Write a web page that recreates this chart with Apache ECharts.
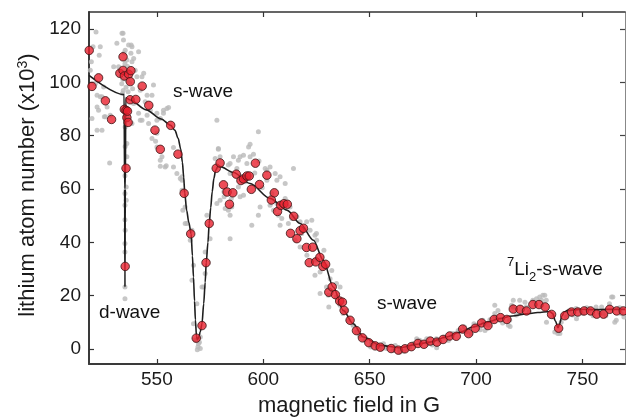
<!DOCTYPE html>
<html><head><meta charset="utf-8">
<script src="https://cdn.jsdelivr.net/npm/echarts@6/dist/echarts.min.js"></script>
<style>html,body{margin:0;padding:0;background:#fff}#c{width:626px;height:420px}</style>
</head><body><div id="c"></div>
<script>
const fieldTicks = [550, 600, 650, 700, 750];
const atomTicks = [0, 20, 40, 60, 80, 100, 120];

const redField = [518.2,519.5,522.6,525.8,528.7,532.6,534.1,534.1,534.7,534.7,535.1,535.5,535.5,535.9,536.2,536.5,536.7,537.4,537.5,537.8,540.1,543.1,546.2,549.1,551.6,556.5,559.9,562.8,565.9,568.5,571.2,573.1,574.6,577.9,579.7,581.3,583.0,584.1,585.7,587.3,589.5,590.7,592.3,593.4,594.4,596.3,598.2,601.7,603.8,605.2,606.7,608.2,609.7,611.3,612.8,614.3,615.8,617.3,618.9,620.3,621.6,623.2,624.7,626.6,628.0,629.3,630.8,632.4,633.9,635.9,637.2,638.0,640.8,643.8,646.6,649.6,652.6,655.0,660.1,663.5,666.6,669.6,672.7,675.5,678.5,681.6,684.5,687.6,690.7,693.7,696.5,699.6,702.6,705.6,708.5,711.5,714.5,717.5,720.7,723.7,726.7,729.6,732.5,735.5,738.8,741.7,744.9,747.8,750.8,753.8,756.7,759.9,762.8,766.1,769.2];
const redAtoms = [112.0,98.5,101.7,93.1,86.1,103.4,109.6,104.5,102.4,89.9,31.0,67.8,89.5,86.8,89.2,85.0,103.1,93.5,100.3,104.4,93.6,98.6,91.4,82.1,74.9,83.9,73.1,58.4,43.2,4.1,8.8,32.4,47.1,67.8,69.8,61.6,58.9,54.3,58.6,65.6,63.2,63.8,64.9,64.9,59.9,69.7,61.7,65.2,55.9,58.6,51.6,53.9,54.5,54.3,43.4,49.8,41.4,44.4,45.3,38.1,32.4,38.2,32.7,34.4,31.0,31.8,21.3,23.3,20.4,18.0,17.6,14.5,10.8,6.9,4.2,2.4,1.2,0.7,0.2,-0.4,0.1,0.9,2.1,1.8,3.0,2.6,3.6,4.9,4.8,7.5,5.8,7.8,9.8,8.8,11.1,11.8,11.1,15.0,14.9,14.3,16.7,16.7,15.8,13.0,7.8,12.5,13.9,13.9,14.3,14.3,13.1,13.1,14.9,14.3,14.3];

const fitField = [518.1,534.6,534.85,535.0,535.15,535.4,537.5,545,552,556.5,558.5,560.0,561.2,562.0,562.6,563.1,564.0,565.0,566.1,566.7,567.2,567.7,568.1,568.6,569.0,569.6,570.4,571.2,572.0,572.7,573.2,574.0,574.6,575.3,576.0,576.8,577.6,578.7,579.8,586.0,593.8,603.2,611.1,617.3,623.6,628.2,632.9,637.6,642.3,647.0,654.9,664.3,672.1,678.3,686.0,692.0,698.5,705.0,711.0,717.0,723.5,729.0,734.6,736.0,737.3,738.5,739.3,740.3,741.5,743.0,748.6,755.0,762.0,770.0];
const fitAtoms = [102.6,95.4,60,23.3,60,94.2,93.4,89.7,86.3,83.9,82.0,79.0,75.0,70.0,64.5,58.6,52.0,47.5,43.2,35.0,27.0,18.0,11.0,5.0,3.6,4.2,6.5,9.5,17.0,25.0,32.4,40.0,47.1,53.0,59.0,64.0,67.0,68.5,68.4,66.2,62.1,56.5,52.1,47.1,40.8,33.3,23.3,14.5,9.5,4.5,1.4,0.5,1.8,2.6,4.5,6.2,8.3,10.0,11.4,12.4,13.2,13.7,14.1,13.3,10.5,8.0,9.5,12.3,14.0,14.5,14.9,14.8,14.9,14.9];

const grayPoints = [
[521.4,118.9],[520.0,113.4],[523.4,113.4],[522.9,110.2],[518.7,104.6],[521.1,99.6],[525.0,98.3],[519.5,86.5],[521.9,90.8],[523.4,94.6],[526.6,90.8],[525.3,87.1],[528.1,87.7],[524.2,82.1],[527.8,69.8],[531.2,114.7],[534.1,118.4],[534.3,115.9],[535.1,112.1],[537.9,114.0],[537.8,110.9],[541.4,111.5],[539.1,109.0],[529.7,105.9],[540.6,102.1],[542.2,97.1],[543.8,103.4],[545.4,95.2],[550.0,88.4],[553.1,89.6],[554.7,90.2],[551.6,86.5],[545.4,87.7],[542.2,85.8],[539.1,92.1],[546.1,84.6],[550.0,80.9],[549.4,77.9],[552.4,72.1],[553.9,68.3],[551.6,68.6],[557.8,68.3],[559.4,65.8],[561.0,64.0],[561.8,59.6],[563.3,53.3],[535.9,77.1],[535.1,83.3],[535.9,72.1],[535.6,60.8],[535.6,55.8],
[519.2,107.7],[521.9,95.2],[524.2,94.6],[522.6,89.6],[521.9,82.1],[525.8,87.1],[533.6,118.4],[536.7,114.0],[538.3,113.4],[535.9,108.4],[538.3,107.7],[539.8,104.6],[532.0,105.9],[543.0,102.1],[548.4,99.0],[547.7,95.2],[544.5,92.7],[546.9,89.6],[550.0,85.8],[553.1,88.4],[555.5,90.6],[541.4,88.4],[538.3,84.6],[543.0,85.8],[547.7,79.0],[550.0,75.8],[551.6,70.8],[554.4,68.7],[557.8,75.6],[561.8,64.6],
[533.5,99.5],[534.2,97.0],[535.5,98.2],[536.5,96.5],[537.2,99.8],[538.6,97.6],[534.0,101.2],[536.0,100.8],[533.8,95.8],[535.0,107.0],[536.2,106.0],[534.6,111.0],
[535.0,58.3],[535.0,53.9],[535.0,39.6],[535.0,36.4],[535.0,23.3],[535.0,18.9],[535.1,44.6],[535.0,48.5],[535.1,76.0],[535.0,65.0],
[563.3,47.1],[565.7,40.8],[567.2,31.4],[566.5,25.8],[568.8,17.0],[568.0,3.3],[569.3,0.8],[570.0,2.6],[571.2,23.3],[572.7,28.3],[572.7,36.4],[584.4,41.4],[562.2,52.1],[573.5,50.2],[561.8,63.3],[564.1,47.1],[566.5,44.6],[569.5,2.0],[570.4,0.2],[568.8,3.3],[567.2,9.5],[575.0,41.4],[571.9,23.3],[570.4,4.5],[569.0,-0.3],
[578.9,74.9],[577.4,71.5],[579.7,72.1],[593.8,76.8],[590.7,72.7],[588.3,70.8],[592.3,69.6],[595.4,73.1],[586.0,72.1],[583.6,69.0],[584.4,65.8],[587.6,67.7],[589.9,64.6],[591.5,62.7],[588.3,60.8],[590.7,57.7],[589.1,57.1],[582.1,52.7],[583.6,52.1],[584.4,50.2],[585.2,53.3],[578.2,54.6],[581.6,57.1],[594.6,46.4],[597.7,50.2],[598.5,53.3],[600.9,67.7],[603.2,68.3],[605.6,65.8],[601.7,63.3],[610.3,62.1],[614.2,67.7],[607.9,64.6],[604.0,58.3],[603.2,53.9],[604.8,52.1],[607.1,50.2],[608.7,49.0],[607.9,46.4],[611.8,47.1],[613.4,49.0],[606.4,54.6],[610.3,56.5],[612.6,53.3],[615.8,49.6],[617.3,47.7],[618.1,43.3],[620.4,47.7],[622.8,48.3],[622.0,44.6],[625.1,40.8],[624.3,42.7],[628.5,37.1],[615.0,40.8],[617.3,38.3],[620.5,35.2],[624.3,33.3],[626.7,28.9],[624.3,27.7],[629.8,30.8],[632.2,29.5],[631.4,26.4],[626.7,20.8],[630.6,20.2],[636.1,23.3],[634.5,19.5],[636.1,16.4],[639.2,14.5],[640.0,10.8],[642.3,8.9],[643.9,6.4],[645.5,5.1],[647.8,3.3],[651.7,2.0],[655.7,0.2],[658.0,0.8],[664.3,-1.1],[667.4,0.2],[670.5,2.0],[674.4,2.6],[676.8,3.9],
[578.2,85.8],[578.9,75.2],[584.4,69.6],[589.1,72.1],[593.1,75.8],[593.8,72.1],[597.7,81.5],[601.7,67.1],[606.4,63.3],[579.7,55.8],[581.5,59.0],[585.0,56.5],[596.0,66.0],[599.5,60.5],[598.0,70.5],
[625.0,43.3],[629.7,23.3],[630.8,15.8],[634.4,19.5],[637.5,13.3],[634.4,24.6],[642.2,8.9],
[645.3,5.1],[648.4,3.9],[650.8,2.6],[653.9,1.4],[657.8,0.2],[661.0,-0.5],[664.1,-0.5],[668.8,0.8],[670.4,2.0],[673.5,3.3],[677.4,2.0],[681.3,3.9],[685.2,4.5],[689.1,5.8],[692.3,7.0],[694.6,8.3],[697.7,5.8],[700.9,8.9],[703.2,10.8],[704.8,9.5],[708.7,12.0],[710.3,14.5],[711.1,10.8],[715.8,10.8],[717.3,15.8],[720.5,18.3],[723.6,15.8],[726.7,18.3],[729.9,19.5],[731.4,20.2],[733.0,18.3],[736.1,12.0],[738.4,5.8],[740.0,10.1],[743.9,14.5],[747.0,15.2],[750.2,13.3],[753.3,14.5],[756.4,15.8],[759.6,13.3],[762.7,17.0],[764.3,19.5],[765.9,10.8],[768.2,13.3],
[715.2,8.9],[716.7,16.4],[723.0,17.6],[728.4,18.9],[730.8,18.3],[732.3,20.2],[733.1,10.1],[737.0,6.4],[739.4,5.8],[747.2,11.4],[759.0,15.8],[763.7,19.5],[765.2,10.1],[672.1,3.9],[681.5,0.5],[691.6,7.0],[704.2,7.0],[705.7,8.9],[708.8,16.4],[716.0,8.5],[708.8,13.3],[717.5,18.3],
[650.5,0.8],[656.5,2.0],[662.0,1.3],[666.0,-0.8],[679.5,1.5],[683.0,2.8],[687.0,3.2],[695.5,6.5],[699.0,9.5],[702.0,7.2],[706.5,11.0],[712.5,9.8],[719.0,12.8],[725.0,14.0],[742.5,12.0],[745.5,12.8],[752.0,15.5],[755.0,12.5],[758.0,14.0],[761.0,12.5],[767.5,15.5],[769.5,12.0]
];

const FONT = '"Liberation Sans", Arial, Helvetica, sans-serif';
const chart = echarts.init(document.getElementById('c'), null, {renderer: 'canvas'});

const redData = redField.map((x, i) => [x, redAtoms[i]]);
const fitData = fitField.map((x, i) => [x, fitAtoms[i]]);

const xMin = 518.1, xMax = 770, yMin = -5.6, yMax = 126.4;

chart.setOption({
  animation: false,
  backgroundColor: '#fff',
  grid: {left: 89, right: 1, top: 12, bottom: 56, containLabel: false},
  xAxis: [{
    type: 'value', min: xMin, max: xMax, position: 'bottom',
    axisLine: {show: true, onZero: false, lineStyle: {color: '#3a3a3a', width: 2}},
    axisTick: {show: true, inside: true, length: 5, customValues: fieldTicks, lineStyle: {color: '#333', width: 1.2}},
    axisLabel: {show: true, customValues: fieldTicks, margin: 6, fontSize: 19, color: '#1a1a1a', fontFamily: FONT},
    splitLine: {show: false}
  }, {
    type: 'value', min: xMin, max: xMax, position: 'top',
    axisLine: {show: true, onZero: false, lineStyle: {color: '#333', width: 1.5}},
    axisTick: {show: true, inside: true, length: 5, customValues: fieldTicks, lineStyle: {color: '#333', width: 1.2}},
    axisLabel: {show: false},
    splitLine: {show: false}
  }],
  yAxis: [{
    type: 'value', min: yMin, max: yMax, position: 'left',
    axisLine: {show: true, onZero: false, lineStyle: {color: '#3a3a3a', width: 2}},
    axisTick: {show: true, inside: true, length: 5, customValues: atomTicks, lineStyle: {color: '#333', width: 1.2}},
    axisLabel: {show: true, customValues: atomTicks, margin: 8, fontSize: 19, color: '#1a1a1a', fontFamily: FONT},
    splitLine: {show: false}
  }, {
    type: 'value', min: yMin, max: yMax, position: 'right',
    axisLine: {show: true, onZero: false, lineStyle: {color: '#888', width: 1}},
    axisTick: {show: true, inside: true, length: 5, customValues: atomTicks, lineStyle: {color: '#444', width: 1.2}},
    axisLabel: {show: false},
    splitLine: {show: false}
  }],
  series: [{
    type: 'scatter', name: 'shots', data: grayPoints, symbol: 'circle', symbolSize: 5,
    itemStyle: {color: '#b9b9b9'}, clip: false, z: 1, silent: true
  }, {
    type: 'line', name: 'fit', data: fitData, showSymbol: false, symbol: 'none',
    smooth: 0.3, smoothMonotone: 'x',
    lineStyle: {color: '#1e1e1e', width: 1.6}, z: 2, silent: true
  }, {
    type: 'scatter', name: 'mean', data: redData, symbol: 'circle', symbolSize: 8.5,
    itemStyle: {color: '#e8212e', borderColor: '#3a1515', borderWidth: 1}, clip: false, z: 3, silent: true
  }],
  graphic: [
    {type: 'text', x: 28, y: 185, rotation: Math.PI / 2, z: 10,
     style: {text: 'lithium atom number (x10{sup|3})', fontSize: 22, fontFamily: FONT, fill: '#1a1a1a',
       align: 'center', verticalAlign: 'middle', lineHeight: 24,
       rich: {sup: {fontSize: 14, fontFamily: FONT, fill: '#1a1a1a', verticalAlign: 'top', lineHeight: 24}}}},
    {type: 'text', x: 349, y: 406, z: 10,
     style: {text: 'magnetic field in G', fontSize: 22, fontFamily: FONT, fill: '#1a1a1a', align: 'center', verticalAlign: 'middle'}},
    {type: 'text', x: 173, y: 92, z: 10,
     style: {text: 's-wave', fontSize: 19, fontFamily: FONT, fill: '#111', align: 'left', verticalAlign: 'middle'}},
    {type: 'text', x: 99, y: 313, z: 10,
     style: {text: 'd-wave', fontSize: 19, fontFamily: FONT, fill: '#111', align: 'left', verticalAlign: 'middle'}},
    {type: 'text', x: 377, y: 304, z: 10,
     style: {text: 's-wave', fontSize: 19, fontFamily: FONT, fill: '#111', align: 'left', verticalAlign: 'middle'}},
    {type: 'text', x: 507, y: 270, z: 10,
     style: {text: '{sup|7}{n|Li}{sub|2}{n|-s-wave}', fontFamily: FONT, fill: '#111', align: 'left', verticalAlign: 'middle',
       rich: {
         n: {fontSize: 19, fontFamily: FONT, fill: '#111', lineHeight: 28, verticalAlign: 'middle'},
         sup: {fontSize: 13, fontFamily: FONT, fill: '#111', lineHeight: 28, verticalAlign: 'top'},
         sub: {fontSize: 13, fontFamily: FONT, fill: '#111', lineHeight: 28, verticalAlign: 'bottom'}
       }}}
  ]
});
</script>
</body></html>
